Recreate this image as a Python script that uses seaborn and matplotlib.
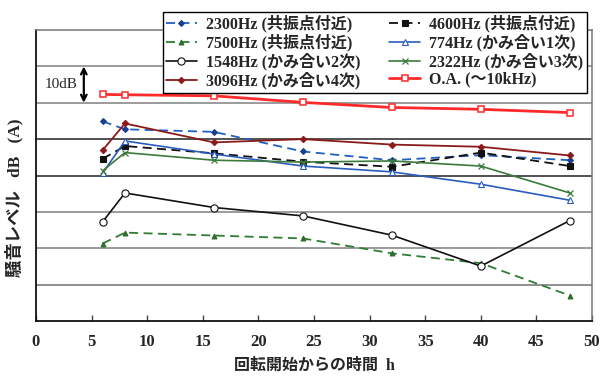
import matplotlib
matplotlib.use("Agg")
import matplotlib.pyplot as plt
import seaborn as sns
import numpy as np
import pandas as pd

sns.set_theme(style="white")
plt.rcParams['font.family'] = ['Liberation Serif', 'Noto Sans CJK JP', 'DejaVu Sans']

# ---- data ----
hours = [6, 8, 16, 24, 32, 40, 48]
labels = ["2300Hz (共振点付近)", "7500Hz (共振点付近)", "1548Hz (かみ合い2次)", "3096Hz (かみ合い4次)",
          "4600Hz (共振点付近)", "774Hz (かみ合い1次)", "2322Hz (かみ合い3次)", "O.A. (～10kHz)"]
hz2300 = [54.9, 52.7, 52.0, 46.6, 44.2, 45.6, 44.2]
hz7500 = [21.3, 24.3, 23.5, 22.7, 18.6, 15.9, 7.0]
hz1548 = [27.3, 35.2, 31.2, 28.9, 23.6, 15.1, 27.6]
hz3096 = [47.0, 54.3, 49.1, 50.0, 48.5, 47.9, 45.5]
hz4600 = [44.6, 48.1, 46.1, 43.8, 42.4, 46.3, 42.6]
hz774 = [40.7, 49.5, 45.9, 42.6, 41.0, 37.6, 33.2]
hz2322 = [41.3, 46.3, 44.2, 43.7, 44.0, 42.6, 35.2]
overall = [62.3, 62.2, 61.9, 60.1, 58.7, 58.2, 57.3]
xticks = [0, 5, 10, 15, 20, 25, 30, 35, 40, 45, 50]

series = [hz2300, hz7500, hz1548, hz3096, hz4600, hz774, hz2322, overall]

styles = [
    dict(color="#2060c0", ls=(0, (5, 3)), marker="D", ms=3.0, mfc="#1a3f8f", mec="#1a3f8f", lw=1.3),
    dict(color="#2e7d32", ls=(0, (5, 3)), marker="^", ms=3.5, mfc="#2e6b2e", mec="#2e6b2e", lw=1.3),
    dict(color="#111111", ls="-", marker="o", ms=5.2, mfc="white", mec="#111111", lw=1.2, mew=0.8),
    dict(color="#8b1a1a", ls="-", marker="D", ms=3.2, mfc="#8b1a1a", mec="#8b1a1a", lw=1.3),
    dict(color="#111111", ls=(0, (5, 3)), marker="s", ms=4.0, mfc="#111111", mec="#111111", lw=1.3),
    dict(color="#2a5cbf", ls="-", marker="^", ms=3.8, mfc="white", mec="#2a5cbf", lw=1.2, mew=0.8),
    dict(color="#3a7a3a", ls="-", marker="x", ms=3.8, mfc="#3a7a3a", mec="#3a7a3a", lw=1.2, mew=0.9),
    dict(color="#ff2a2a", ls="-", marker="s", ms=4.5, mfc="white", mec="#ff2a2a", lw=2.0, mew=1.1),
]

fig = plt.figure(figsize=(6.0, 3.78), dpi=100)
ax = fig.add_axes([36 / 600, 1 - 321 / 378, (592 - 36) / 600, (321 - 30) / 378])

# gridlines (no y tick labels in the original)
grid_levels = [10, 20, 30, 40, 50, 60, 70]
grid_colors = ["#707070", "#808080", "#808080", "#222222", "#222222", "#808080", "#808080"]
for lv, gc in zip(grid_levels, grid_colors):
    ax.axhline(lv, color=gc, lw=1.1, zorder=0)

for vals, lab, st in zip(series, labels, styles):
    df = pd.DataFrame({"h": hours, "v": vals})
    sns.lineplot(data=df, x="h", y="v", ax=ax, estimator=None, sort=False,
                 color=st["color"], linestyle=st["ls"], linewidth=st["lw"],
                 marker=st["marker"], markersize=st["ms"],
                 markerfacecolor=st["mfc"], markeredgecolor=st["mec"],
                 markeredgewidth=st.get("mew", 0.8), label=lab)

ax.set_xlim(0, 50)
ax.set_ylim(0, 80)
ax.set_xticks(xticks)
ax.set_xticklabels([str(t) for t in xticks], fontsize=12, fontweight="bold")
ax.set_yticks([])
ax.tick_params(axis="x", direction="in", length=4, width=1, color="#444444", pad=9, bottom=True)
for s in ["left", "bottom"]:
    ax.spines[s].set_color("#111111")
    ax.spines[s].set_linewidth(1.3)
for s in ["top", "right"]:
    ax.spines[s].set_color("#777777")
    ax.spines[s].set_linewidth(1.1)

ax.set_xlabel("回転開始からの時間  h", fontsize=11.5, fontweight="bold", labelpad=6)
ax.set_ylabel("騒音レベル   dB   (A)", fontsize=12.5, fontweight="bold")
ax.yaxis.set_label_coords(-0.022, 0.424)

# 10 dB scale annotation
ax.annotate("", xy=(4.3, 70), xytext=(4.3, 60),
            arrowprops=dict(arrowstyle="<->", color="black", lw=1.6, shrinkA=0, shrinkB=0,
                            mutation_scale=10))
ax.text(2.25, 65, "10dB", ha="center", va="center", fontsize=11)

if ax.get_legend() is not None:
    ax.get_legend().remove()
handles, labs = ax.get_legend_handles_labels()
leg = fig.legend(handles, labs, ncol=2, loc="upper left",
                 bbox_to_anchor=(163 / 600, 1 - 12 / 378), borderaxespad=0,
                 prop={"size": 11.5, "weight": "bold"}, frameon=True, fancybox=False, framealpha=1,
                 edgecolor="black", handlelength=1.9, handletextpad=0.6,
                 columnspacing=1.8, labelspacing=0.08, borderpad=0.2)
leg.get_frame().set_linewidth(1.0)

fig.savefig("out.png", dpi=100)
